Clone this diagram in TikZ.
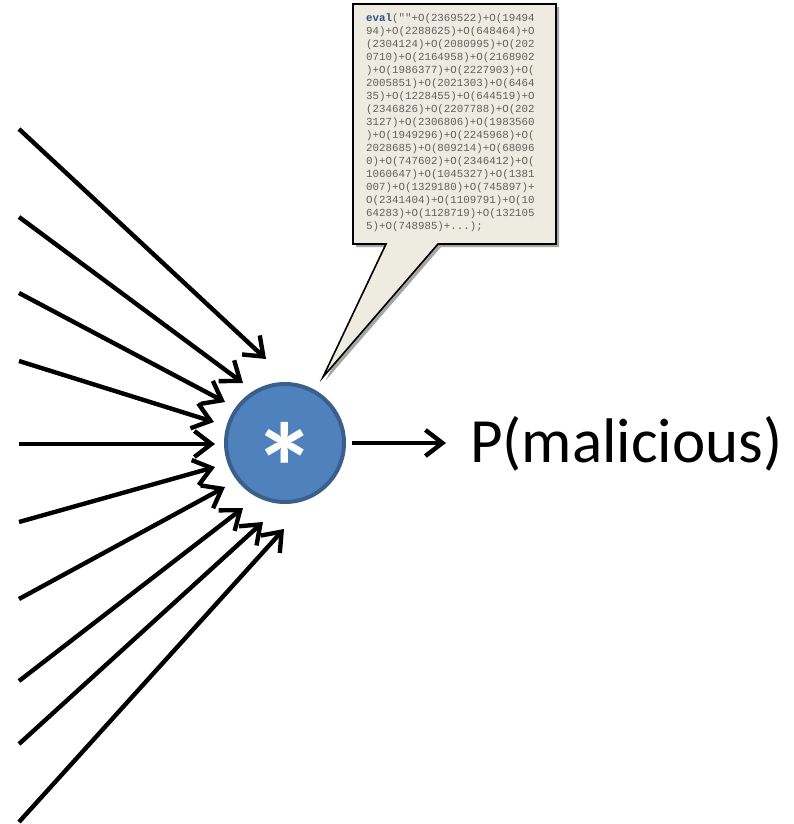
\documentclass[tikz,border=0pt]{standalone}
\usepackage{fontspec}
\setmainfont{Carlito}
\setmonofont{Liberation Mono}
\usetikzlibrary{arrows.meta,shadows}
\definecolor{nodefill}{HTML}{4F81BD}
\definecolor{nodeline}{HTML}{3A5F8B}
\definecolor{callfill}{HTML}{EEECE1}
\definecolor{codegray}{HTML}{606060}
\definecolor{codeblue}{HTML}{2B4E8A}
\tikzset{
  inarrow/.style={line width=4.4pt,-{Straight Barb[length=17pt,width=26pt,line width=4.4pt]}},
  neuron/.style={circle,fill=nodefill,draw=nodeline,line width=4pt,minimum size=118pt,inner sep=0pt},
  callout/.style={fill=callfill,draw=black,line width=1.6pt,line join=miter,
    drop shadow={shadow xshift=3pt,shadow yshift=-3pt,opacity=0.35,fill=black}},
  codetext/.style={font=\ttfamily\fontsize{10.8}{13}\selectfont,text=codegray,align=left,inner sep=0pt,anchor=north west}
}
\begin{document}
\begin{tikzpicture}[x=1pt,y=-1pt]
\useasboundingbox (0,0) rectangle (794,824);
% callout
\path[callout] (353,4) -- (556,4) -- (556,244) -- (438,244) -- (323,377) -- (386,244) -- (353,244) -- cycle;
\node[codetext] (code) at (366,13) {{\color{codeblue}\bfseries eval}(""+O(2369522)+O(19494\\
94)+O(2288625)+O(648464)+O\\
(2304124)+O(2080995)+O(202\\
0710)+O(2164958)+O(2168902\\
)+O(1986377)+O(2227903)+O(\\
2005851)+O(2021303)+O(6464\\
35)+O(1228455)+O(644519)+O\\
(2346826)+O(2207788)+O(202\\
3127)+O(2306806)+O(1983560\\
)+O(1949296)+O(2245968)+O(\\
2028685)+O(809214)+O(68096\\
0)+O(747602)+O(2346412)+O(\\
1060647)+O(1045327)+O(1381\\
007)+O(1329180)+O(745897)+\\
O(2341404)+O(1109791)+O(10\\
64283)+O(1128719)+O(132105\\
5)+O(748985)+...);};
% neuron
\node[neuron] (c) at (285,443) {};
\node[text=white,font=\bfseries\fontsize{126}{126}\selectfont,inner sep=0pt,anchor=base] (star) at (285,512) {*};
% inputs
\coordinate (s1) at (19,129);  \coordinate (t1) at (266,359);
\coordinate (s2) at (19,217);  \coordinate (t2) at (243,383);
\coordinate (s3) at (19,293);  \coordinate (t3) at (225,402);
\coordinate (s4) at (19,361);  \coordinate (t4) at (214,422);
\coordinate (s5) at (19,444);  \coordinate (t5) at (215,444);
\coordinate (s6) at (19,522);  \coordinate (t6) at (215,467);
\coordinate (s7) at (19,599);  \coordinate (t7) at (225,487);
\coordinate (s8) at (19,681);  \coordinate (t8) at (243,508);
\coordinate (s9) at (19,744);  \coordinate (t9) at (263,522);
\coordinate (s10) at (19,822); \coordinate (t10) at (284,529);
\foreach \i in {1,...,10} \draw[inarrow] (s\i) -- (t\i);
% output
\coordinate (o) at (446,443);
\draw[inarrow] (c.east) ++(6pt,0) coordinate (oe) (oe) -- (o);
\node[font=\fontsize{63}{63}\selectfont,inner sep=0pt,anchor=base west] (p) at (470,462) {P(malicious)};
\end{tikzpicture}
\end{document}
